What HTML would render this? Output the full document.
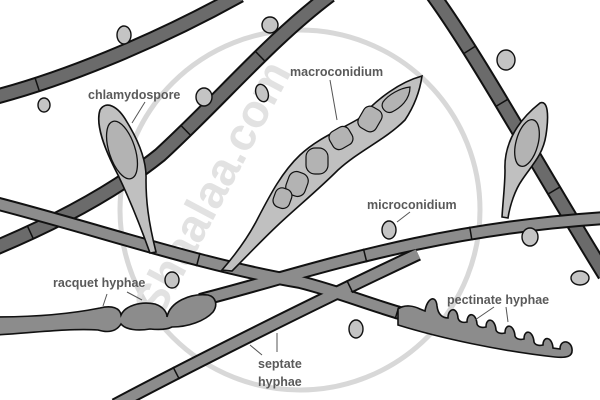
<!DOCTYPE html>
<html><head><style>
html,body{margin:0;padding:0;background:#fff;}
svg{display:block;}
text{font-family:"Liberation Sans",sans-serif;font-weight:bold;font-size:12.5px;fill:#5a5a5a;}
</style></head><body>
<svg id="s" width="600" height="400" viewBox="0 0 600 400" xmlns="http://www.w3.org/2000/svg">
<circle cx="300" cy="210" r="180" fill="none" stroke="#d8d8d8" stroke-width="5"/>
<text transform="translate(160,320) rotate(-62)" style="font-size:46px;fill:#e2e2e2;">Shaalaa.com</text>
<g fill="none" stroke-linecap="butt">
<g stroke="#111" stroke-width="16">
<path id="h1" d="M-5,97 C60,80 150,45 240,-5"/>
<path id="h2" d="M330,-5 C270,40 220,100 160,155 C110,195 50,225 -5,248"/>
<path id="h3" d="M433,-5 C480,60 540,170 605,275"/>
</g>
<g stroke="#6b6b6b" stroke-width="12">
<path d="M-5,97 C60,80 150,45 240,-5"/>
<path d="M330,-5 C270,40 220,100 160,155 C110,195 50,225 -5,248"/>
<path d="M433,-5 C480,60 540,170 605,275"/>
</g>
<g stroke="#111" stroke-width="14">
<path id="h4" d="M-5,203 C100,230 200,265 300,282 C340,292 370,305 410,316"/>
<path id="h5" d="M200,300 C300,275 420,230 605,218"/>
<path id="h6" d="M115,405 C200,360 320,300 418,254"/>
</g>
<g stroke="#8c8c8c" stroke-width="10">
<path d="M-5,203 C100,230 200,265 300,282 C340,292 370,305 410,316"/>
<path d="M200,300 C300,275 420,230 605,218"/>
<path d="M115,405 C200,360 320,300 418,254"/>
</g>
<g id="septa" stroke="#111" stroke-width="1.5"></g>
</g>
<!-- pectinate -->
<path d="M398,309 C405,304 414,306 420,309 L425,311 C427,298 436,294 437,306 C438,315 443,318 448,318 C448,308 457,306 458,318 C459,322 463,323 467,322 C467,312 476,312 477,324 C478,327 482,328 486,327 C486,317 495,318 496,330 C497,333 501,334 505,333 C505,323 514,324 515,336 C516,339 520,340 524,339 C524,329 533,330 534,342 C535,345 539,346 543,345 C543,336 552,336 553,348 L560,349 C560,339 571,340 572,349 C573,357 566,358 555,357 C500,351 440,338 398,325 Z" fill="#8c8c8c" stroke="#111" stroke-width="1.6"/>
<!-- racquet -->
<path d="M-5,317 C40,317 75,313 100,308 C112,305 120,308 121,315 C125,306 140,301 155,304 C164,307 167,313 167,317 C170,302 190,293 208,295 C216,297 218,305 213,312 C205,321 188,327 172,327 C168,329 160,330 150,329 C138,331 126,330 121,324 C116,332 108,333 98,330 C70,328 30,333 -5,335 Z" fill="#8c8c8c" stroke="#111" stroke-width="1.6"/>
<path d="M100,110 C106,100 118,106 127,122 C138,140 147,160 146,180 C146,200 148,220 156,252 L150,253 C140,225 130,200 118,175 C105,150 95,125 100,110 Z" fill="#c0c0c0" stroke="#111" stroke-width="1.6"/>
<ellipse cx="122" cy="150" rx="13" ry="30" transform="rotate(-18 122 150)" fill="#b3b3b3" stroke="#111" stroke-width="1.3"/>
<path d="M540,103 C548,100 549,115 546,135 C543,155 532,165 522,180 C515,190 510,205 508,218 L502,217 C503,200 505,185 505,170 C504,150 512,125 540,103 Z" fill="#c0c0c0" stroke="#111" stroke-width="1.6"/>
<ellipse cx="527" cy="143" rx="11" ry="24" transform="rotate(15 527 143)" fill="#b3b3b3" stroke="#111" stroke-width="1.3"/>
<path d="M422,76 C400,82 378,98 360,118 C340,130 318,138 300,155 C282,172 270,195 258,218 C248,238 235,255 222,270 L232,271 C248,255 262,240 278,225 C296,208 318,190 338,170 C360,150 385,140 405,120 C415,105 420,90 422,76 Z" fill="#c0c0c0" stroke="#111" stroke-width="1.6"/>
<g fill="#b3b3b3" stroke="#111" stroke-width="1.2">
<path d="M410,87 C400,88 388,95 383,102 C380,108 386,114 392,112 C400,108 410,100 410,87 Z"/>
<rect x="360" y="107" width="20" height="24" rx="7" transform="rotate(30 370 119)"/>
<rect x="330" y="128" width="22" height="20" rx="7" transform="rotate(-30 341 138)"/>
<rect x="306" y="148" width="22" height="26" rx="9"/>
<rect x="287" y="172" width="20" height="24" rx="8" transform="rotate(20 297 184)"/>
<rect x="274" y="188" width="17" height="20" rx="7" transform="rotate(20 282 198)"/>
</g>
<g fill="#c4c4c4" stroke="#111" stroke-width="1.4">
<ellipse cx="124" cy="35" rx="7" ry="9"/>
<ellipse cx="270" cy="25" rx="8" ry="8"/>
<ellipse cx="44" cy="105" rx="6" ry="7"/>
<ellipse cx="204" cy="97" rx="8" ry="9"/>
<ellipse cx="262" cy="93" rx="6" ry="9" transform="rotate(-20 262 93)"/>
<ellipse cx="506" cy="60" rx="9" ry="10"/>
<ellipse cx="172" cy="280" rx="7" ry="8"/>
<ellipse cx="389" cy="230" rx="7" ry="9"/>
<ellipse cx="530" cy="237" rx="8" ry="9"/>
<ellipse cx="580" cy="278" rx="9" ry="7"/>
<ellipse cx="356" cy="329" rx="7" ry="9"/>
</g>
<g stroke="#555" stroke-width="1">
<line x1="145" y1="102" x2="132" y2="123"/>
<line x1="330" y1="80" x2="337" y2="120"/>
<line x1="410" y1="212" x2="397" y2="222"/>
<line x1="107" y1="294" x2="103" y2="306"/>
<line x1="127" y1="292" x2="142" y2="300"/>
<line x1="250" y1="345" x2="262" y2="355"/>
<line x1="277" y1="333" x2="277" y2="352"/>
<line x1="494" y1="307" x2="475" y2="320"/>
<line x1="506" y1="307" x2="508" y2="322"/>
</g>
<text x="88" y="99">chlamydospore</text>
<text x="290" y="76">macroconidium</text>
<text x="367" y="209">microconidium</text>
<text x="53" y="287">racquet hyphae</text>
<text x="447" y="304">pectinate hyphae</text>
<text x="258" y="368">septate</text>
<text x="258" y="386">hyphae</text>
</svg>
<script>
var S={h1:[60,155],h2:[270,66,185,130,38,248],h3:[478,45,498,105,555,190],h4:[197,266,395,318],h5:[360,235,470,230],h6:[173,367,350,288]};
var g=document.getElementById('septa');
for(var id in S){var p=document.getElementById(id),L=p.getTotalLength(),a=S[id];
 for(var i=0;i<a.length;i+=2){var tx=a[i],ty=a[i+1],best=0,bd=1e9;
  for(var s=0;s<=L;s+=1){var q=p.getPointAtLength(s),d=(q.x-tx)*(q.x-tx)+(q.y-ty)*(q.y-ty);if(d<bd){bd=d;best=s;}}
  var q=p.getPointAtLength(best),q2=p.getPointAtLength(Math.min(L,best+1)),q1=p.getPointAtLength(Math.max(0,best-1));
  var dx=q2.x-q1.x,dy=q2.y-q1.y,n=Math.hypot(dx,dy)||1;dx/=n;dy/=n;var w=7;
  var l=document.createElementNS('http://www.w3.org/2000/svg','line');
  l.setAttribute('x1',q.x-dy*w);l.setAttribute('y1',q.y+dx*w);l.setAttribute('x2',q.x+dy*w);l.setAttribute('y2',q.y-dx*w);g.appendChild(l);}}
</script>
</body></html>
